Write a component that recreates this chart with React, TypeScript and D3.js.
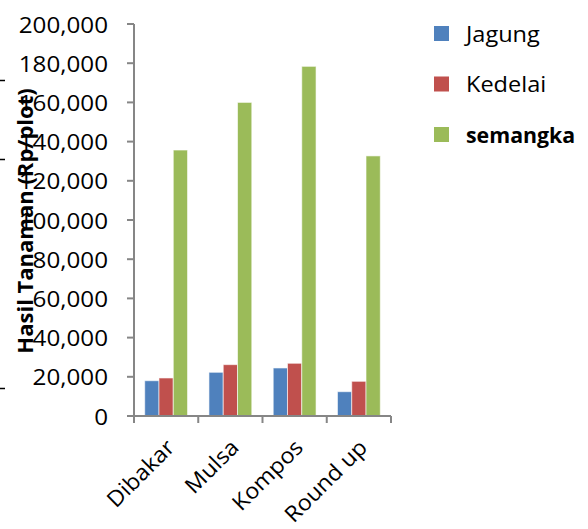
import * as d3 from "d3";

const categories = ["Dibakar", "Mulsa", "Kompos", "Round up"];
const seriesNames = ["Jagung", "Kedelai", "semangka"];
const jagung = [18000, 22300, 24500, 12400];
const kedelai = [19400, 26200, 26900, 17700];
const semangka = [135700, 160000, 178400, 132700];
const yTickValues = [0, 20000, 40000, 60000, 80000, 100000, 120000, 140000, 160000, 180000, 200000];

const COLORS = ["#4F81BD", "#C0504D", "#9BBB59"];
const FONT = "'Open Sans', 'Liberation Sans', sans-serif";
// the original text is a little wider than Open Sans
const STRETCH = 1.1;

const width = 588;
const height = 529;
const plot = { left: 134, right: 391, top: 24, bottom: 416 };

export default function App() {
  const series = [jagung, kedelai, semangka];

  const xScale = d3
    .scaleBand()
    .domain(categories)
    .range([plot.left, plot.right]);
  // gap width 150% like the original spreadsheet chart
  const barWidth = xScale.bandwidth() / 4.5;
  const innerScale = d3
    .scaleBand()
    .domain(seriesNames)
    .range([barWidth * 0.75, barWidth * 3.75]);

  const yScale = d3.scaleLinear().domain([0, 200000]).range([plot.bottom, plot.top]);
  const fmt = d3.format(",");

  const xTicks = [...categories.map((c) => xScale(c) ?? 0), plot.right];

  return (
    <svg
      width={width}
      height={height}
      viewBox={`0 0 ${width} ${height}`}
      style={{ position: "absolute", left: 0, top: 0, background: "#fff" }}
    >
      {/* stray marks at the left edge */}
      {[80.5, 159.5, 388.5].map((y, i) => (
        <line key={i} x1={0} x2={5} y1={y} y2={y} stroke="#000" strokeWidth={1.5} />
      ))}

      {/* bars */}
      {series.map((values, si) => (
        <g key={seriesNames[si]}>
          {values.map((v, ci) => (
            <rect
              key={categories[ci]}
              x={(xScale(categories[ci]) ?? 0) + (innerScale(seriesNames[si]) ?? 0)}
              y={yScale(v)}
              width={innerScale.bandwidth()}
              height={plot.bottom - yScale(v)}
              fill={COLORS[si]}
              stroke="#fff"
              strokeOpacity={0.6}
              strokeWidth={1}
            />
          ))}
        </g>
      ))}

      {/* y axis */}
      <line x1={plot.left} x2={plot.left} y1={plot.top} y2={plot.bottom} stroke="#868686" strokeWidth={2} />
      {yTickValues.map((t) => (
        <g key={t}>
          <line x1={plot.left - 7} x2={plot.left} y1={yScale(t)} y2={yScale(t)} stroke="#868686" strokeWidth={2} />
          <text
            transform={`translate(108,${yScale(t)}) scale(${STRETCH},1)`}
            textAnchor="end"
            dominantBaseline="central"
            style={{ fontFamily: FONT, fontSize: "22px", fill: "#000" }}
          >
            {fmt(t)}
          </text>
        </g>
      ))}

      {/* x axis */}
      <line x1={plot.left} x2={plot.right} y1={plot.bottom} y2={plot.bottom} stroke="#868686" strokeWidth={2} />
      {xTicks.map((x, i) => (
        <line key={i} x1={x} x2={x} y1={plot.bottom} y2={plot.bottom + 7} stroke="#868686" strokeWidth={2} />
      ))}
      {categories.map((c) => {
        const cx = (xScale(c) ?? 0) + xScale.bandwidth() / 2 + 4;
        const cy = 443;
        return (
          <text
            key={c}
            transform={`translate(${cx},${cy}) rotate(-45) scale(1.06,1)`}
            textAnchor="end"
            dominantBaseline="central"
            style={{ fontFamily: FONT, fontSize: "22px", fill: "#000" }}
          >
            {c}
          </text>
        );
      })}

      {/* y axis title */}
      <text
        transform={`translate(33,221) rotate(-90)`}
        textAnchor="middle"
        style={{ fontFamily: FONT, fontSize: "22px", fontWeight: "bold", fill: "#000" }}
      >
        Hasil Tanaman (Rp/plot)
      </text>

      {/* legend */}
      {seriesNames.map((name, i) => {
        const cy = 33.5 + i * 50.5;
        const bold = i === 2;
        return (
          <g key={name}>
            <rect x={434} y={cy - 7.5} width={15} height={15} fill={COLORS[i]} />
            <text
              transform={`translate(466,${cy}) scale(${bold ? 0.97 : 1.07},1)`}
              dominantBaseline="central"
              style={{
                fontFamily: FONT,
                fontSize: "22px",
                fontWeight: bold ? "bold" : "normal",
                fill: "#000",
              }}
            >
              {name}
            </text>
          </g>
        );
      })}
    </svg>
  );
}
